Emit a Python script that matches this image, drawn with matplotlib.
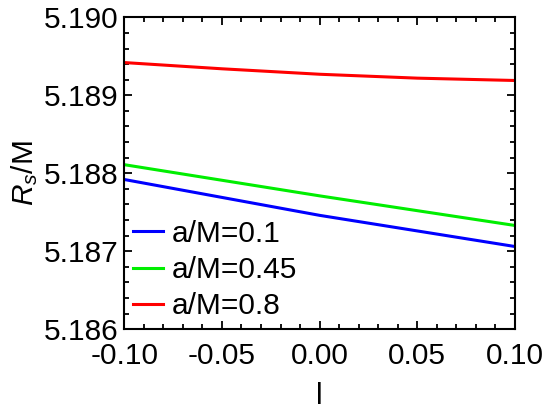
import matplotlib
matplotlib.use('Agg')
import matplotlib.pyplot as plt
import numpy as np
from matplotlib.ticker import MultipleLocator

plt.rcParams['font.family'] = ['Liberation Sans', 'DejaVu Sans']
plt.rcParams['mathtext.fontset'] = 'custom'
plt.rcParams['mathtext.rm'] = 'Liberation Sans'
plt.rcParams['mathtext.it'] = 'Liberation Sans:italic'

# l values
l = [-0.10, -0.05, 0.00, 0.05, 0.10]
# R_s/M for each spin
rs_01 = [5.18792, 5.18769, 5.18746, 5.18726, 5.18706]
rs_045 = [5.18811, 5.18791, 5.18771, 5.18752, 5.18733]
rs_08 = [5.18942, 5.18934, 5.18927, 5.18922, 5.18919]
labels = ["a/M=0.1", "a/M=0.45", "a/M=0.8"]
colors = ["#0000ff", "#00ee00", "#ff0000"]

fig = plt.figure(figsize=(5.45, 4.13), dpi=100)
ax = fig.add_axes([0.228, 0.203, 0.717, 0.755])

for ys, lab, c in zip([rs_01, rs_045, rs_08], labels, colors):
    ax.plot(l, ys, color=c, lw=2.2, label=lab)

ax.set_xlim(-0.1, 0.1)
ax.set_ylim(5.186, 5.190)
ax.xaxis.set_major_locator(MultipleLocator(0.05))
ax.xaxis.set_minor_locator(MultipleLocator(0.01))
ax.yaxis.set_major_locator(MultipleLocator(0.001))
ax.yaxis.set_minor_locator(MultipleLocator(0.0002))
ax.xaxis.set_major_formatter(matplotlib.ticker.FormatStrFormatter('%.2f'))
ax.yaxis.set_major_formatter(matplotlib.ticker.FormatStrFormatter('%.3f'))
ax.tick_params(which='both', direction='in', top=True, right=True, width=1.3)
ax.tick_params(which='major', length=6, labelsize=21.5)
ax.tick_params(axis='x', which='major', pad=9)
ax.tick_params(axis='y', which='major', pad=4)
ax.tick_params(which='minor', length=3.5)
for s in ax.spines.values():
    s.set_linewidth(1.5)

ax.set_xlabel("l", fontsize=21.5, labelpad=9)
ax.set_ylabel(r"$R_s$/M", fontsize=21.5, labelpad=3)

ax.legend(loc='lower left', frameon=False, fontsize=21.5, handlelength=1.0,
          handletextpad=0.3, labelspacing=0.28, borderaxespad=0.0,
          bbox_to_anchor=(-0.008, -0.01))

fig.savefig("out.png", dpi=100)
